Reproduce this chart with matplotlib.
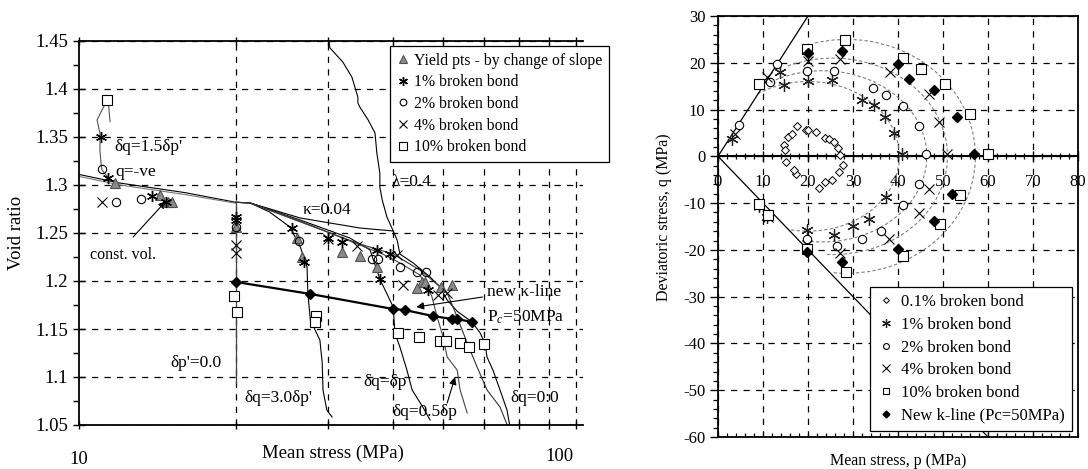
import matplotlib
matplotlib.use('Agg')
import matplotlib.pyplot as plt
from matplotlib.patches import Arc
from matplotlib.ticker import MultipleLocator, NullFormatter, FixedLocator

plt.rcParams['font.family'] = ['Liberation Serif', 'DejaVu Serif']
plt.rcParams['mathtext.fontset'] = 'custom'
plt.rcParams['mathtext.rm'] = 'Liberation Serif'
plt.rcParams['mathtext.it'] = 'Liberation Serif:italic'
plt.rcParams['axes.unicode_minus'] = False

# ================= LEFT PANEL DATA (mean stress p [MPa], void ratio e) =================
yield_p = [11.72, 14.31, 14.82, 15.09, 20.0, 26.2, 26.8, 32.0, 34.6, 37.3, 45.5, 46.1, 44.6, 49.5, 52.0]
yield_e = [1.302, 1.2896, 1.2823, 1.2823, 1.2563, 1.2448, 1.225, 1.2302, 1.226, 1.2146, 1.199, 1.199, 1.1927, 1.1938, 1.1958]

b1_p = [11.02, 11.37, 13.8, 14.69, 20.0, 20.0, 25.6, 27.0, 30.1, 32.0, 37.3, 37.8, 39.5, 46.8]
b1_e = [1.35, 1.3073, 1.2885, 1.2823, 1.2667, 1.2635, 1.2552, 1.2198, 1.2448, 1.2406, 1.2323, 1.2021, 1.2281, 1.1906]

b2_p = [11.07, 11.78, 13.15, 20.0, 26.4, 36.5, 37.5, 41.3, 44.6, 46.3]
b2_e = [1.3167, 1.2823, 1.2854, 1.2563, 1.242, 1.2229, 1.2229, 1.2146, 1.2094, 1.2094]

b4_p = [11.07, 20.0, 20.0, 30.1, 34.2, 40.8, 41.9, 48.9, 50.9]
b4_e = [1.2823, 1.2375, 1.2292, 1.2438, 1.2365, 1.2271, 1.1958, 1.1854, 1.1875]

b10_p = [11.32, 19.83, 20.1, 28.5, 28.4, 41.0, 44.9, 49.3, 50.6, 53.9, 56.1, 60.0]
b10_e = [1.3885, 1.1844, 1.1677, 1.1635, 1.1573, 1.1458, 1.1417, 1.1375, 1.1375, 1.1354, 1.1313, 1.1344]

newk_p = [20.0, 27.8, 40.1, 42.2, 47.8, 52.0, 53.2, 56.8]
newk_e = [1.199, 1.1865, 1.1708, 1.1698, 1.1635, 1.1604, 1.1604, 1.1573]

# stress paths (simulation curves)
init_p = [11.32, 10.83, 10.97, 10.97, 11.02, 11.07, 11.47, 11.99]
init_e = [1.3885, 1.3677, 1.3542, 1.3365, 1.3229, 1.3156, 1.3052, 1.302]
init2_p = [11.37, 11.42, 11.47]
init2_e = [1.3885, 1.378, 1.366]
main_p = [10.0, 11.99, 16.0, 20.0]
main_e = [1.311, 1.302, 1.292, 1.282]
main2_e = [1.309, 1.300, 1.290, 1.281]
k2l_p = [20.0, 21.3, 26.6, 34.6, 40.1]
k2l_e = [1.282, 1.2813, 1.2656, 1.2552, 1.2521]
lam_p = [30.2, 30.3, 32.1, 33.4, 34.3, 34.3, 34.6, 35.9, 37.0, 37.3, 37.8, 37.8, 38.2, 39.0, 40.1,
         40.8, 41.3, 43.8, 47.2, 49.3, 50.9, 53.2, 56.8, 58.9, 60.2, 60.7, 62.3, 64.3, 66.3, 67.2]
lam_e = [1.45, 1.443, 1.428, 1.4125, 1.3917, 1.3854, 1.3812, 1.3677, 1.3542, 1.3333, 1.3125, 1.2979,
         1.2844, 1.2667, 1.2521, 1.2427, 1.2281, 1.2188, 1.2042, 1.1938, 1.1802, 1.1685, 1.1573,
         1.1458, 1.1344, 1.1208, 1.1073, 1.0865, 1.0656, 1.0479]
dp0_p = [20.0, 20.0]
dp0_e = [1.282, 1.094]
d3_p = [21.3, 23.2, 25.4, 26.6, 27.4, 27.5, 27.8, 29.0, 29.3, 29.4, 29.9, 30.6]
d3_e = [1.2813, 1.272, 1.2563, 1.2354, 1.2146, 1.1875, 1.1594, 1.1385, 1.1146, 1.0865, 1.0656, 1.0583]
d1_p = [20.0, 21.3, 26.6, 33.1, 36.2, 37.8, 40.1, 40.4, 41.3, 42.6, 43.6, 45.7, 47.2]
d1_e = [1.282, 1.2813, 1.2635, 1.2448, 1.2323, 1.2021, 1.1729, 1.1458, 1.1313, 1.1073, 1.0865, 1.0687, 1.0552]
d05_p = [20.0, 21.3, 26.6, 33.1, 38.3, 41.3, 45.1, 47.5, 48.7, 50.0, 50.9, 53.2, 53.9, 55.6]
d05_e = [1.282, 1.2813, 1.2625, 1.2417, 1.228, 1.2188, 1.2063, 1.185, 1.1625, 1.1417, 1.1208, 1.1073, 1.0865, 1.0625]
d0_p = [20.0, 21.3, 26.6, 34.6, 40.1, 45.1, 48.9, 50.9, 53.2, 55.6, 58.1, 60.7, 64.3, 66.6]
d0_e = [1.282, 1.2813, 1.2615, 1.2385, 1.2281, 1.2115, 1.1958, 1.1875, 1.1625, 1.1354, 1.1104, 1.0865, 1.0687, 1.0479]

# ================= RIGHT PANEL DATA (p, q in MPa) =================
q01_p = [14.6, 14.8, 15.5, 16.4, 17.6, 19.6, 19.9, 21.8, 23.7, 24.7, 25.7, 26.7, 27.2, 27.8, 26.8, 25.3, 23.8, 22.4, 17.4, 16.8, 15.2]
q01_q = [2.5, 1.3, 4.1, 4.8, 6.4, 5.6, 5.7, 5.1, 4.0, 3.6, 3.1, 1.8, 0.2, -1.9, -3.4, -5.1, -5.5, -6.7, -3.7, -2.9, -1.2]
q1_p = [3.0, 13.8, 14.6, 20.1, 25.3, 32.0, 34.6, 37.0, 39.0, 40.9, 37.4, 33.5, 30.1, 25.7, 19.8, 9.0, 10.9]
q1_q = [3.8, 18.0, 15.2, 16.2, 16.4, 12.1, 10.9, 8.5, 5.0, 0.4, -8.7, -13.3, -15.0, -16.9, -15.8, -10.7, -13.0]
q2_p = [4.6, 11.5, 13.0, 19.8, 25.8, 34.4, 37.4, 41.1, 44.6, 46.3, 44.6, 41.1, 36.2, 32.0, 26.4, 19.8, 9.2, 11.0]
q2_q = [6.8, 15.9, 19.8, 18.2, 18.2, 14.7, 13.2, 10.7, 6.5, 0.4, -6.0, -10.4, -16.0, -17.7, -19.2, -17.6, -10.4, -12.8]
q4_p = [3.8, 10.9, 20.1, 27.0, 38.3, 46.8, 49.2, 50.9, 46.8, 44.6, 37.9, 27.2, 19.8, 9.0, 11.1]
q4_q = [4.8, 16.9, 20.4, 20.9, 18.0, 13.4, 7.3, 0.4, -6.9, -12.2, -17.6, -20.6, -19.0, -10.5, -12.9]
q10_p = [9.0, 19.8, 28.3, 41.1, 45.0, 50.5, 56.1, 60.0, 53.8, 49.4, 41.2, 28.4, 19.8, 9.2, 11.0]
q10_q = [15.5, 23.0, 24.8, 21.1, 18.7, 15.4, 9.1, 0.4, -8.3, -14.5, -21.2, -24.7, -19.9, -10.2, -12.6]
qk_p = [20.0, 27.6, 40.0, 42.4, 48.1, 53.1, 56.8, 52.0, 47.9, 40.1, 27.6, 19.8]
qk_q = [22.1, 22.5, 19.8, 16.6, 14.1, 8.4, 0.4, -8.0, -13.8, -19.9, -22.6, -20.4]

# failure lines
comp_line_p = [0, 20]
comp_line_q = [0, 30]
ext_line_p = [0, 60]
ext_line_q = [0, -60]

# fitted yield ellipses: centre p, full width, full height, start/end angle
ell_centre = [20.0, 23.2, 25.5, 28.6]
ell_width = [40.6, 46.4, 51.0, 57.2]
ell_height = [32.0, 36.6, 42.0, 50.0]
ell_theta1 = [-103.5, -98.3, -93.5, -96.6]
ell_theta2 = [131.2, 122.8, 117.3, 106.9]

# ================= FIGURE =================
W, H = 1088, 469
fig = plt.figure(figsize=(W / 100, H / 100), dpi=100)

ast = (6, 2, 0)
grid_kw = dict(color='k', linestyle=(0, (5, 5)), linewidth=0.9)

# ---------- left ----------
axL = fig.add_axes([79 / W, (H - 425) / H, (583 - 79) / W, (425 - 41) / H])
axL.set_xscale('log')
axL.set_xlim(10, 92.78)
axL.set_ylim(1.05, 1.45)

curve_kw = dict(color='k', linewidth=0.8, zorder=2)
axL.plot(main_p, main_e, **curve_kw)
axL.plot(main_p, main2_e, color='#777777', linewidth=0.8, zorder=2)
axL.plot(init_p, init_e, color='#555555', linewidth=0.8, zorder=2)
axL.plot(init2_p, init2_e, color='#555555', linewidth=0.8, zorder=2)
axL.plot(k2l_p, k2l_e, **curve_kw)
axL.plot(lam_p, lam_e, **curve_kw)
axL.plot(dp0_p, dp0_e, color='#444444', linewidth=0.9, zorder=2)
axL.plot(d3_p, d3_e, **curve_kw)
axL.plot(d1_p, d1_e, **curve_kw)
axL.plot(d05_p, d05_e, color='#444444', linewidth=0.8, zorder=2)
axL.plot(d0_p, d0_e, color='#333333', linewidth=0.8, zorder=2)
axL.plot(newk_p, newk_e, color='k', linewidth=1.6, marker='D', markersize=5.5,
         markerfacecolor='k', markeredgecolor='k', zorder=4)

hY, = axL.plot(yield_p, yield_e, linestyle='none', marker='^', markersize=7.5,
               markerfacecolor='#8a8a8a', markeredgecolor='#505050', markeredgewidth=0.8,
               label='Yield pts - by change of slope', zorder=5)
h1, = axL.plot(b1_p, b1_e, linestyle='none', marker=ast, markersize=8, markeredgewidth=1.0,
               color='k', label='1% broken bond', zorder=5)
h2, = axL.plot(b2_p, b2_e, linestyle='none', marker='o', markersize=6, markerfacecolor='none',
               markeredgecolor='k', markeredgewidth=0.8, label='2% broken bond', zorder=5)
h4, = axL.plot(b4_p, b4_e, linestyle='none', marker='x', markersize=6.5, color='k',
               markeredgewidth=0.8, label='4% broken bond', zorder=5)
h10, = axL.plot(b10_p, b10_e, linestyle='none', marker='s', markersize=6.5, markerfacecolor='white',
                markeredgecolor='k', markeredgewidth=0.8, label='10% broken bond', zorder=5)

axL.set_xticks([10], labels=['10'])
axL.xaxis.set_minor_locator(FixedLocator([20, 30, 40, 50, 60, 70, 80, 90]))
axL.xaxis.set_minor_formatter(NullFormatter())
axL.yaxis.set_major_locator(MultipleLocator(0.05))
axL.yaxis.set_minor_locator(MultipleLocator(0.025))
axL.yaxis.set_major_formatter(matplotlib.ticker.FuncFormatter(lambda v, _: ('%.2f' % v).rstrip('0').rstrip('.')))
axL.grid(True, which='minor', axis='x', **grid_kw)
axL.grid(True, which='major', axis='y', **grid_kw)
axL.tick_params(axis='x', which='both', direction='inout', top=True, length=6, width=1, labelsize=13.5, pad=16)
axL.tick_params(axis='y', which='major', direction='inout', length=8, width=1, labelsize=13.5, pad=4)
axL.tick_params(axis='y', which='minor', direction='out', length=4, width=1)
for s in ['left', 'bottom', 'top']:
    axL.spines[s].set_linewidth(1.3)
axL.spines['right'].set_visible(False)
axL.text(0.954, -0.083, '100', transform=axL.transAxes, ha='center', va='center', fontsize=13.5)
axL.set_xlabel('Mean stress (MPa)', fontsize=13.5)
axL.xaxis.set_label_coords(0.504, -0.052)
axL.set_ylabel('Void ratio', fontsize=13.5)
axL.yaxis.set_label_coords(-0.108, 0.5)

legL = axL.legend(handles=[hY, h1, h2, h4, h10], loc='upper left', bbox_to_anchor=(0.617, 0.986),
                  fontsize=11.3, frameon=True, fancybox=False, edgecolor='k', framealpha=1,
                  handlelength=0.8, handletextpad=0.35, labelspacing=0.36, borderpad=0.4,
                  borderaxespad=0, markerscale=0.8)
legL.get_frame().set_linewidth(0.9)

txt_kw = dict(fontsize=12.5, va='center', ha='left', zorder=6)
axL.text(11.67, 1.3396, "δq=1.5δp'", **txt_kw)
axL.text(11.72, 1.3135, "q=-ve", **txt_kw)
axL.text(10.5, 1.227, "const. vol.", fontsize=11.5, va='center', ha='left')
axL.text(26.9, 1.274, "κ=0.04", **txt_kw)
axL.text(39.8, 1.303, "λ=0.4", **txt_kw)
axL.text(60.7, 1.1885, "new κ-line", **txt_kw)
axL.text(60.7, 1.1625, "P$_c$=50MPa", **txt_kw)
axL.text(14.95, 1.1146, "δp'=0.0", **txt_kw)
axL.text(20.8, 1.078, "δq=3.0δp'", **txt_kw)
axL.text(35.1, 1.0948, "δq=δp", **txt_kw)
axL.text(39.9, 1.0635, "δq=0.5δp", **txt_kw)
axL.text(67.2, 1.078, "δq=0:0", **txt_kw)
arr = dict(arrowstyle='-|>', color='k', lw=0.8, shrinkA=0, shrinkB=0, mutation_scale=11)
axL.annotate('', xy=(14.69, 1.2833), xytext=(12.7, 1.2458), arrowprops=arr)
axL.annotate('', xy=(44.4, 1.1729), xytext=(59.5, 1.1833), arrowprops=arr)
axL.annotate('', xy=(52.7, 1.1), xytext=(50.9, 1.0729), arrowprops=arr)

# ---------- right ----------
axR = fig.add_axes([718 / W, (H - 437) / H, 360 / W, 421 / H])
axR.set_xlim(0, 80)
axR.set_ylim(-60, 30)

for c, w, h, t1, t2 in zip(ell_centre, ell_width, ell_height, ell_theta1, ell_theta2):
    axR.add_patch(Arc((c, 0), w, h, theta1=t1, theta2=t2, color='#808080',
                      linewidth=0.8, linestyle=(0, (3, 2)), zorder=2))
axR.plot(comp_line_p, comp_line_q, color='k', linewidth=0.9, zorder=2)
axR.plot(ext_line_p, ext_line_q, color='k', linewidth=0.9, zorder=2)

g0, = axR.plot(q01_p, q01_q, linestyle='none', marker='D', markersize=4.2, markerfacecolor='white',
               markeredgecolor='k', markeredgewidth=0.7, label='0.1% broken bond', zorder=5)
g1, = axR.plot(q1_p, q1_q, linestyle='none', marker=ast, markersize=9, markeredgewidth=0.9,
               color='#222222', label='1% broken bond', zorder=5)
g2, = axR.plot(q2_p, q2_q, linestyle='none', marker='o', markersize=6, markerfacecolor='white',
               markeredgecolor='k', markeredgewidth=0.8, label='2% broken bond', zorder=5)
g4, = axR.plot(q4_p, q4_q, linestyle='none', marker='x', markersize=7.5, color='k',
               markeredgewidth=0.8, label='4% broken bond', zorder=5)
g10, = axR.plot(q10_p, q10_q, linestyle='none', marker='s', markersize=6.5, markerfacecolor='white',
                markeredgecolor='k', markeredgewidth=0.8, label='10% broken bond', zorder=5)
gk, = axR.plot(qk_p, qk_q, linestyle='none', marker='D', markersize=5, markerfacecolor='k',
               markeredgecolor='k', label='New k-line (Pc=50MPa)', zorder=6)

axR.xaxis.set_major_locator(MultipleLocator(10))
axR.xaxis.set_minor_locator(MultipleLocator(2))
axR.yaxis.set_major_locator(MultipleLocator(10))
axR.yaxis.set_minor_locator(MultipleLocator(2))
axR.grid(True, which='major', **grid_kw)
axR.tick_params(axis='x', which='both', labelbottom=False, direction='in', length=3, width=0.9)
axR.tick_params(axis='y', which='major', direction='out', length=6, width=1, labelsize=12, pad=3)
axR.tick_params(axis='y', which='minor', direction='out', length=3.5, width=0.9)
for s in axR.spines.values():
    s.set_linewidth(1.3)

sec = axR.secondary_xaxis(60 / 90)
sec.xaxis.set_ticks_position('bottom')
sec.xaxis.set_label_position('bottom')
sec.xaxis.set_major_locator(MultipleLocator(10))
sec.xaxis.set_minor_locator(MultipleLocator(2))
sec.tick_params(axis='x', which='major', direction='inout', length=7, width=1, labelsize=12, pad=9,
                bottom=True, labelbottom=True, top=False, labeltop=False)
sec.tick_params(axis='x', which='minor', direction='inout', length=5, width=0.9, bottom=True, top=False)
for s in sec.spines.values():
    s.set_linewidth(1.5)

axR.set_xlabel('Mean stress, p (MPa)', fontsize=11.5)
axR.xaxis.set_label_coords(0.5, -0.038)
axR.set_ylabel('Deviatoric stress, q (MPa)', fontsize=11.5)
axR.yaxis.set_label_coords(-0.128, 0.523)

legR = axR.legend(handles=[g0, g1, g2, g4, g10, gk], loc='lower right', bbox_to_anchor=(0.983, 0.014),
                  fontsize=12, frameon=True, fancybox=False, edgecolor='k', framealpha=1,
                  handlelength=1.0, handletextpad=0.4, labelspacing=0.4, borderpad=0.45,
                  borderaxespad=0, markerscale=0.7)
legR.get_frame().set_linewidth(0.9)
legR.set_zorder(10)

fig.savefig('out.png', dpi=100)
